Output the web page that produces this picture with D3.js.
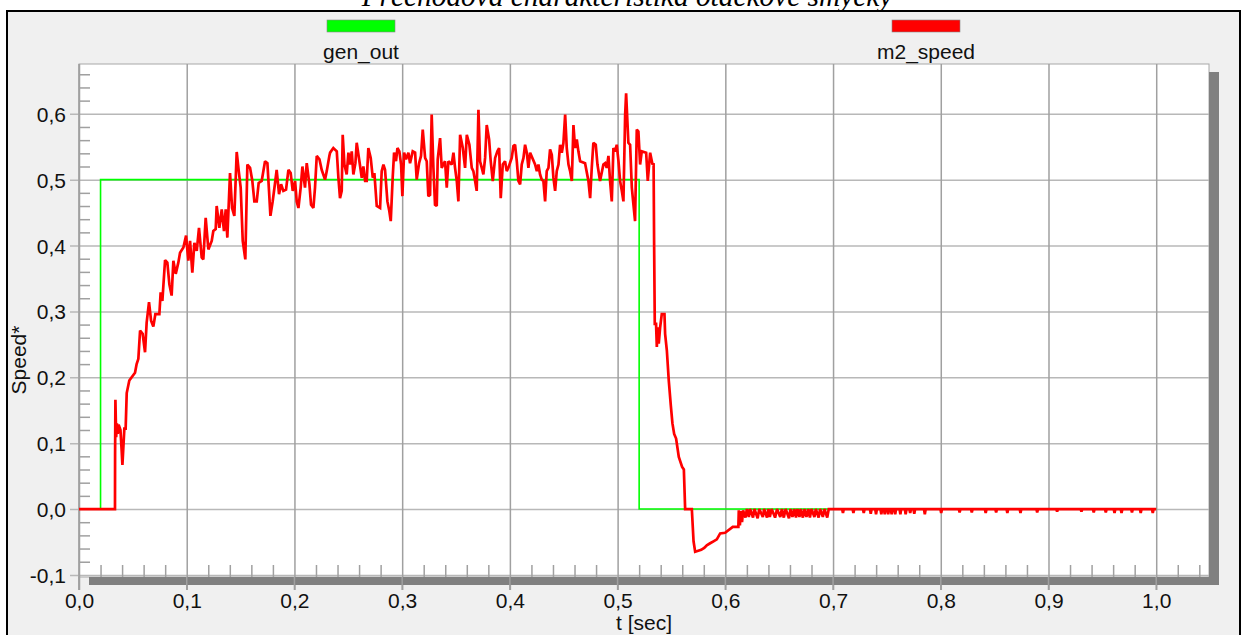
<!DOCTYPE html>
<html><head><meta charset="utf-8">
<script src="https://cdn.jsdelivr.net/npm/d3@7"></script>
<style>
html,body{margin:0;padding:0;background:#fff;}
svg{display:block;}
text{font-family:"Liberation Sans",Arial,sans-serif;}
</style></head>
<body>
<svg id="chart" width="1246" height="635"></svg>
<script>
// ---------- DATA ----------
const chartTitle = "Přechodová charakteristika otáčkové smyčky";
const seriesNames = ["gen_out", "m2_speed"];
const seriesColors = ["#00ff00", "#ff0000"];
const xTickValues = [0, 0.1, 0.2, 0.3, 0.4, 0.5, 0.6, 0.7, 0.8, 0.9, 1.0];
const yTickValues = [-0.1, 0, 0.1, 0.2, 0.3, 0.4, 0.5, 0.6];
const xLabel = "t [sec]";
const yLabel = "Speed*";

// gen_out (step signal)
const genT = [0, 0.02, 0.52, 1.0];
const genV = [0, 0.5, 0, 0];

// m2_speed: [t, value]
const speedRise = [[0,0],[0.0334,0],[0.0335,0.082],[0.0338,0.166],[0.0345,0.109],[0.0352,0.130],[0.0360,0.114],[0.0368,0.128],[0.0385,0.120],[0.0396,0.089],[0.0403,0.067],[0.0421,0.122],[0.0433,0.122],[0.0443,0.176],[0.0467,0.195],[0.0489,0.200],[0.052,0.207],[0.0535,0.220],[0.0551,0.228],[0.0567,0.271],[0.0591,0.266],[0.0613,0.238],[0.0628,0.283],[0.065,0.314],[0.0669,0.286],[0.069,0.277],[0.0709,0.296],[0.0746,0.296],[0.0758,0.329],[0.0774,0.316],[0.0799,0.378],[0.082,0.374],[0.0839,0.341],[0.086,0.324],[0.0876,0.377],[0.0898,0.357],[0.0922,0.374],[0.0938,0.389],[0.0969,0.397],[0.0994,0.415],[0.1015,0.377],[0.1031,0.407],[0.1052,0.359],[0.1071,0.404],[0.1093,0.392],[0.1114,0.427],[0.1139,0.382],[0.1154,0.379],[0.1176,0.442],[0.1201,0.394],[0.1232,0.407],[0.1247,0.422],[0.1269,0.425],[0.1278,0.460],[0.1303,0.427],[0.1325,0.455],[0.1346,0.422],[0.1362,0.455],[0.1377,0.412],[0.1402,0.510],[0.1421,0.457],[0.1442,0.445],[0.1464,0.542],[0.1483,0.513],[0.1501,0.488],[0.152,0.407],[0.1544,0.379],[0.1563,0.523],[0.1588,0.518],[0.1609,0.498],[0.1628,0.467],[0.165,0.467],[0.1668,0.495],[0.1696,0.498],[0.1727,0.528],[0.1749,0.525],[0.1764,0.483],[0.1777,0.445],[0.1798,0.467],[0.182,0.495],[0.1835,0.515],[0.1857,0.478],[0.1876,0.493],[0.1897,0.483],[0.1922,0.485],[0.1944,0.515],[0.1965,0.510],[0.1984,0.483],[0.2006,0.498],[0.2021,0.467],[0.2037,0.457],[0.2058,0.488],[0.2074,0.520],[0.2098,0.488],[0.2114,0.525],[0.2139,0.493],[0.2154,0.462],[0.2176,0.457],[0.2191,0.488],[0.2207,0.536],[0.2232,0.531],[0.2253,0.515],[0.2284,0.500],[0.2300,0.513],[0.2324,0.536]];

const speedPlateau = [[0.2331,0.541],[0.2361,0.548],[0.2393,0.543],[0.2408,0.503],[0.2423,0.472],[0.2439,0.483],[0.2448,0.568],[0.2464,0.523],[0.2485,0.508],[0.2501,0.541],[0.2516,0.523],[0.2532,0.543],[0.2547,0.508],[0.2566,0.525],[0.2578,0.556],[0.2603,0.528],[0.2625,0.503],[0.264,0.520],[0.2656,0.498],[0.2671,0.498],[0.2686,0.548],[0.2708,0.533],[0.2727,0.503],[0.2742,0.510],[0.2764,0.460],[0.2795,0.457],[0.281,0.513],[0.2826,0.523],[0.2841,0.515],[0.2863,0.467],[0.2881,0.452],[0.2894,0.437],[0.2912,0.503],[0.2925,0.541],[0.2943,0.528],[0.2956,0.548],[0.2974,0.543],[0.299,0.523],[0.3002,0.475],[0.3018,0.541],[0.3036,0.531],[0.3058,0.541],[0.3073,0.525],[0.3098,0.543],[0.312,0.541],[0.3135,0.500],[0.3157,0.525],[0.3175,0.536],[0.3191,0.576],[0.3213,0.533],[0.3228,0.528],[0.3243,0.475],[0.3259,0.477],[0.3274,0.599],[0.329,0.518],[0.3305,0.462],[0.3321,0.460],[0.333,0.531],[0.3352,0.563],[0.3367,0.518],[0.3398,0.528],[0.3414,0.488],[0.3429,0.528],[0.346,0.523],[0.3476,0.541],[0.3491,0.518],[0.3507,0.498],[0.3522,0.467],[0.3538,0.568],[0.3563,0.548],[0.3584,0.518],[0.36,0.568],[0.3624,0.553],[0.3646,0.518],[0.3661,0.513],[0.3677,0.498],[0.3692,0.483],[0.3708,0.606],[0.3723,0.528],[0.3739,0.518],[0.3754,0.508],[0.377,0.533],[0.3785,0.583],[0.3807,0.561],[0.3822,0.528],[0.3841,0.498],[0.3863,0.533],[0.3884,0.543],[0.39,0.548],[0.3915,0.472],[0.3934,0.523],[0.3955,0.528],[0.3971,0.513],[0.3986,0.518],[0.4017,0.533],[0.4033,0.551],[0.4048,0.553],[0.4064,0.528],[0.4079,0.498],[0.4095,0.493],[0.411,0.523],[0.4126,0.533],[0.4141,0.553],[0.4157,0.541],[0.4172,0.518],[0.4188,0.541],[0.4234,0.523],[0.425,0.513],[0.4265,0.523],[0.428,0.508],[0.4296,0.500],[0.4311,0.498],[0.4327,0.467],[0.4342,0.513],[0.4358,0.518],[0.4373,0.546],[0.4389,0.538],[0.4404,0.503],[0.442,0.483],[0.4435,0.513],[0.4451,0.523],[0.4466,0.553],[0.4482,0.541],[0.4497,0.556],[0.4513,0.599],[0.4528,0.548],[0.4544,0.523],[0.4559,0.513],[0.4575,0.498],[0.459,0.583],[0.4605,0.548],[0.4621,0.561],[0.4636,0.543],[0.4652,0.528],[0.4698,0.525],[0.4729,0.498],[0.4745,0.472],[0.476,0.518],[0.4775,0.556],[0.4797,0.553],[0.4813,0.523],[0.4837,0.498],[0.4868,0.523],[0.4884,0.525],[0.4899,0.518],[0.4915,0.536],[0.493,0.498],[0.4946,0.467],[0.4961,0.548],[0.4977,0.543],[0.4992,0.553],[0.5008,0.528],[0.5023,0.498],[0.5039,0.483],[0.5054,0.467],[0.507,0.599],[0.5079,0.631],[0.51,0.556],[0.5116,0.553],[0.5132,0.488],[0.5147,0.462],[0.5162,0.437],[0.5178,0.576],[0.5193,0.573],[0.5209,0.523],[0.5224,0.543],[0.5265,0.541],[0.528,0.498],[0.5302,0.541],[0.5324,0.523],[0.5334,0.525]];

const speedFall = [[0.5339,0.402],[0.5345,0.281],[0.5357,0.281],[0.5364,0.246],[0.5373,0.276],[0.5382,0.251],[0.5395,0.276],[0.541,0.296],[0.5435,0.296],[0.5441,0.266],[0.5457,0.241],[0.5475,0.195],[0.5494,0.157],[0.5509,0.130],[0.5525,0.114],[0.5543,0.107],[0.5568,0.079],[0.5599,0.064],[0.5615,0.060],[0.5627,0.0],[0.5689,0.0],[0.5705,-0.049],[0.572,-0.065],[0.5776,-0.062],[0.5804,-0.059],[0.5828,-0.055],[0.5859,-0.052],[0.589,-0.049],[0.5921,-0.046],[0.5952,-0.037],[0.5998,-0.036],[0.6069,-0.027],[0.6121,-0.027]];

const speedTailDense = [[0.6125,-0.002],[0.6135,-0.025],[0.6145,-0.003],[0.6155,-0.020],[0.6165,-0.002],[0.6187,-0.013],[0.620,0],[0.6218,-0.012],[0.623,0],[0.6257,-0.013],[0.627,0],[0.630,-0.014],[0.6315,0],[0.6348,-0.012],[0.636,0],[0.6387,-0.013],[0.640,0],[0.6413,-0.012],[0.643,0],[0.6462,-0.013],[0.648,0],[0.651,-0.012],[0.6525,0],[0.6543,-0.013],[0.656,0],[0.6591,-0.014],[0.6605,0],[0.6623,-0.012],[0.664,0],[0.6656,-0.013],[0.667,0],[0.6688,-0.012],[0.670,0],[0.672,-0.013],[0.6735,0],[0.6753,-0.012],[0.677,0],[0.6785,-0.013],[0.680,0],[0.6827,-0.012],[0.684,0],[0.6866,-0.013],[0.688,0],[0.6905,-0.012],[0.692,0],[0.6946,-0.013],[0.696,0]];

const tailDipT = [0.7092,0.7189,0.7285,0.735,0.7399,0.7448,0.748,0.7512,0.7544,0.7577,0.7625,0.7674,0.7716,0.7754,0.7852,0.8004,0.8175,0.8288,0.8417,0.8514,0.8618,0.874,0.8895,0.908,0.9306,0.942,0.9532,0.9613,0.9678,0.9775,0.9856,0.9968];
const tailDipV = [-0.006,-0.006,-0.006,-0.007,-0.008,-0.008,-0.008,-0.008,-0.008,-0.008,-0.008,-0.008,-0.006,-0.007,-0.008,-0.006,-0.005,-0.005,-0.006,-0.005,-0.006,-0.006,-0.005,-0.004,-0.004,-0.005,-0.005,-0.006,-0.006,-0.005,-0.006,-0.006];
const speedEnd = [[1.0, 0]];

// ---------- LAYOUT ----------
const svg = d3.select("#chart");
const plotL = 79, plotR = 1209, plotT = 64, plotB = 577;
const x = d3.scaleLinear().domain([0, 1.049]).range([plotL, plotR]);
const y = d3.scaleLinear().domain([-0.1, 0.6]).range([574.9, 113.8]);
const fmt = v => d3.format(".1f")(v).replace(".", ",").replace("\u2212", "-");

// frame box
svg.append("rect").attr("x", 7).attr("y", 11).attr("width", 1233).attr("height", 700)
  .attr("fill", "#f0f0f0").attr("stroke", "#000").attr("stroke-width", 2);

// title (partially clipped at top, as in the original)
const title = svg.append("text").attr("x", 627).attr("y", 6).attr("text-anchor", "middle")
  .style("font-family", "'Liberation Serif','Times New Roman',serif").style("font-style", "italic")
  .style("font-size", "24px").attr("fill", "#000").text(chartTitle);
const tl = title.node().getComputedTextLength();
title.style("font-size", (24 * 531 / tl) + "px");

// shadow
svg.append("rect").attr("x", plotL + 10).attr("y", plotT + 8).attr("width", plotR - plotL).attr("height", plotB - plotT)
  .attr("fill", "#808080");
// plot area
svg.append("rect").attr("x", plotL).attr("y", plotT).attr("width", plotR - plotL).attr("height", plotB - plotT)
  .attr("fill", "#fff").attr("stroke", "#a8a8a8").attr("stroke-width", 1);

// horizontal grid + y labels
const yg = svg.append("g").attr("transform", `translate(${plotR},0)`).call(
  d3.axisLeft(y).tickValues(yTickValues).tickFormat(fmt).tickSize(plotR - plotL + 9).tickPadding(4));
yg.select(".domain").remove();
yg.selectAll(".tick line").attr("stroke", "#b8b8b8").attr("stroke-width", 1.5);
yg.selectAll(".tick text").attr("fill", "#111").style("font-size", "21px")
  .style("font-family", "'Liberation Sans',Arial,sans-serif").attr("dy", "0.36em");

// y minor ticks
const yMinor = d3.range(-0.08, 0.67, 0.02).filter(v => Math.abs(Math.round(v * 10) - v * 10) > 1e-6);
const ym = svg.append("g").attr("transform", `translate(${plotL},0)`).call(
  d3.axisRight(y).tickValues(yMinor).tickFormat("").tickSize(11));
ym.select(".domain").remove();
ym.selectAll(".tick line").attr("stroke", "#a0a0a0").attr("stroke-width", 1.5);

// vertical grid + x labels
const xg = svg.append("g").attr("transform", `translate(0,${plotT})`).call(
  d3.axisBottom(x).tickValues(xTickValues).tickFormat(fmt).tickSize(590 - plotT).tickPadding(3));
xg.select(".domain").remove();
xg.selectAll(".tick line").attr("stroke", "#a0a0a0").attr("stroke-width", 1.5);
xg.selectAll(".tick text").attr("fill", "#111").style("font-size", "21px")
  .style("font-family", "'Liberation Sans',Arial,sans-serif");

// x minor ticks
const xMinor = d3.range(0.02, 1.05, 0.02).filter(v => Math.abs(Math.round(v * 10) - v * 10) > 1e-6);
const xm = svg.append("g").attr("transform", `translate(0,${plotB})`).call(
  d3.axisTop(x).tickValues(xMinor).tickFormat("").tickSize(12));
xm.select(".domain").remove();
xm.selectAll(".tick line").attr("stroke", "#a0a0a0").attr("stroke-width", 1.5);

// shadow bars over grid
svg.append("rect").attr("x", plotL + 10).attr("y", plotB).attr("width", plotR - plotL).attr("height", 8).attr("fill", "#808080");
svg.append("rect").attr("x", plotR).attr("y", plotT + 8).attr("width", 9).attr("height", plotB - plotT).attr("fill", "#808080");
// major x grid lines pass over the bar
svg.append("g").selectAll("line").data(xTickValues).join("line")
  .attr("x1", d => x(d)).attr("x2", d => x(d)).attr("y1", plotB).attr("y2", 590)
  .attr("stroke", "#a0a0a0").attr("stroke-width", 1.5);
// left border of plot
svg.append("line").attr("x1", plotL).attr("x2", plotL).attr("y1", plotT).attr("y2", 590)
  .attr("stroke", "#a0a0a0").attr("stroke-width", 1.5);

// ---------- SERIES ----------
const genData = genT.map((t, i) => [t, genV[i]]);
const tailSparse = [];
tailDipT.forEach((t, i) => { tailSparse.push([t - 0.0008, 0], [t, tailDipV[i]], [t + 0.0008, 0]); });
const speedData = [].concat(speedRise, speedPlateau, speedFall, speedTailDense, tailSparse, speedEnd);

svg.append("clipPath").attr("id", "pc").append("rect")
  .attr("x", plotL).attr("y", plotT).attr("width", plotR - plotL).attr("height", plotB - plotT);

svg.append("path").datum(genData).attr("clip-path", "url(#pc)")
  .attr("fill", "none").attr("stroke", seriesColors[0]).attr("stroke-width", 1.6)
  .attr("d", d3.line().x(d => x(d[0])).y(d => y(d[1])).curve(d3.curveStepAfter));
svg.append("path").datum(speedData).attr("clip-path", "url(#pc)")
  .attr("fill", "none").attr("stroke", seriesColors[1]).attr("stroke-width", 2.7)
  .attr("stroke-linejoin", "miter").attr("stroke-miterlimit", 2)
  .attr("d", d3.line().x(d => x(d[0])).y(d => y(d[1])));

// ---------- LEGEND ----------
const legX = [361, 926];
seriesNames.forEach((n, i) => {
  svg.append("rect").attr("x", legX[i] - 34).attr("y", 20).attr("width", 68).attr("height", 12)
    .attr("fill", seriesColors[i]).attr("stroke", "#888").attr("stroke-width", 0.6);
  svg.append("text").attr("x", legX[i]).attr("y", 59).attr("text-anchor", "middle")
    .style("font-size", "21px").attr("fill", "#111").text(n);
});

// ---------- AXIS TITLES ----------
svg.append("text").attr("x", 644).attr("y", 630).attr("text-anchor", "middle")
  .style("font-size", "21px").attr("fill", "#111").text(xLabel);
svg.append("text").attr("transform", "translate(26,360) rotate(-90)").attr("text-anchor", "middle")
  .style("font-size", "21px").attr("fill", "#111").text(yLabel);
</script>
</body></html>
